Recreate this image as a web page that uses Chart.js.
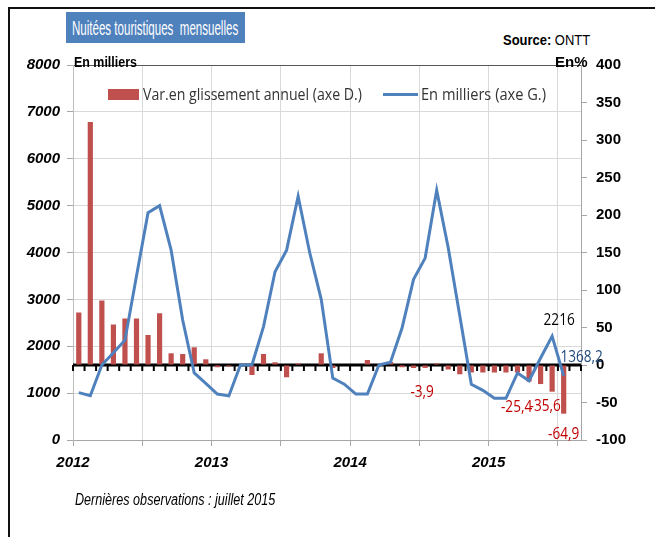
<!DOCTYPE html>
<html>
<head>
<meta charset="utf-8">
<script src="https://cdn.jsdelivr.net/npm/chart.js@4.4.1/dist/chart.umd.min.js"></script>
<style>
  body { margin: 0; background: #fff; font-family: "Liberation Sans", Arial, sans-serif; }
  #page { position: relative; width: 655px; height: 537px; overflow: hidden; }
  #frame { position: absolute; left: 8px; top: 7px; width: 700px; height: 600px;
           border-top: 2px solid #111; border-left: 2px solid #111; }
  #wrap { position: absolute; left: 0; top: 0; width: 655px; height: 537px; }
  #titlebox { position: absolute; left: 66px; top: 12px; width: 179px; height: 31px; background: #4F81BD; }
  .t { position: absolute; white-space: nowrap; line-height: 1; transform-origin: 0 50%; }
</style>
</head>
<body>
<div id="page">
  <div id="frame"></div>
  <div id="titlebox"></div>
  <div class="t" data-w="166" style="left:72px;top:17px;font-size:21px;color:#fff">Nuitées touristiques&nbsp; mensuelles</div>
  <div class="t" data-w="87" style="left:503px;top:33px;font-size:14px;color:#000"><b>Source:</b> ONTT</div>
  <div id="wrap"><canvas id="chart"></canvas></div>
  <div class="t" data-w="63" style="left:74px;top:54px;font-size:15px;font-weight:bold;color:#000">En milliers</div>
  <div class="t" data-w="33" style="left:555px;top:54px;font-size:15px;font-weight:bold;color:#000">En%</div>
  <div class="t" data-w="200" style="left:75px;top:492px;font-size:16px;font-style:italic;color:#000">Dernières observations : juillet 2015</div>
</div>
<script>
// months Jan 2012 .. Aug 2015 (last slot left empty like the original)
const firstYear = 2012;
const months = [];
for (let y = 2012; y <= 2015; y++) {
  for (let m = 1; m <= 12; m++) months.push(y + '-' + String(m).padStart(2, '0'));
}
months.length = 44;

// nuitées, en milliers (axe G.)
const nuitees = [
  1010, 945, 1600, 1860, 2130, 3500, 4850, 5000, 4050, 2560, 1430, 1210,
  980, 940, 1600, 1600, 2420, 3590, 4050, 5200, 4000, 3000, 1320, 1190,
  980, 980, 1600, 1660, 2390, 3430, 3880, 5330, 4100, 2650, 1190, 1060,
  890, 890, 1430, 1265, 1750, 2216, 1368.2
];

// glissement annuel, en % (axe D.)
const glissement = [
  70, 324, 86, 54, 62, 62, 40, 69, 15.6, 14.7, 23.6, 7.6,
  -3, -2, 0, -13.3, 14.7, 3.6, -16.4, 2, 0, 15.6, -4, 0,
  0, 6.7, -1, 4, -3, -4, -3.9, 2, -6, -12.4, -10, -10,
  -10, -10, -10, -22, -25.4, -35.6, -64.9
];

const leftTicks = { min: 0, max: 8000, step: 1000 };
const rightTicks = { min: -100, max: 400, step: 50 };

// which points carry a value label, and where the label sits
const notes = [
  { ds: 'line', i: 41, dx: 7, dy: -16, color: '#000' },
  { ds: 'line', i: 42, dx: 18, dy: -18, color: '#1F497D' },
  { ds: 'bar', i: 30, dx: -3, dy: 25, color: '#C00000' },
  { ds: 'bar', i: 41, dx: -7, dy: 15, color: '#C00000' },
  { ds: 'bar', i: 40, dx: -24, dy: 23, color: '#C00000' },
  { ds: 'bar', i: 42, dx: 0, dy: 21, color: '#C00000' }
];

const fmt = v => String(v).replace('.', ',');

function say(ctx, text, x, y, font, color, sx, align) {
  ctx.save();
  ctx.font = font;
  ctx.fillStyle = color;
  ctx.textBaseline = 'middle';
  ctx.textAlign = align || 'center';
  ctx.translate(x, y);
  ctx.scale(sx, 1);
  ctx.fillText(text, 0, 0);
  ctx.restore();
}

function sayFit(ctx, text, x, y, font, color, w) {
  ctx.save();
  ctx.font = font;
  const m = ctx.measureText(text).width;
  ctx.restore();
  say(ctx, text, x, y, font, color, w / m, 'left');
}

const zeroAxis = {
  id: 'zeroAxis',
  beforeDatasetsDraw(chart) {
    const { ctx, chartArea: a, scales } = chart;
    const y0 = scales.y1.getPixelForValue(0);
    ctx.save();
    ctx.strokeStyle = '#000';
    ctx.lineWidth = 2;
    ctx.beginPath();
    for (let i = 0; i <= months.length; i++) {
      const x = scales.xg.getPixelForValue(i);
      ctx.moveTo(x, y0);
      ctx.lineTo(x, y0 + 6);
    }
    ctx.stroke();
    ctx.lineWidth = 3;
    ctx.beginPath();
    ctx.moveTo(a.left, y0);
    ctx.lineTo(a.right, y0);
    ctx.stroke();
    ctx.restore();
  }
};

const extras = {
  id: 'extras',
  afterDraw(chart) {
    const { ctx, scales } = chart;
    // legend, inside the plot
    ctx.save();
    ctx.fillStyle = '#C0504D';
    ctx.fillRect(108, 89, 31, 11);
    ctx.strokeStyle = '#4F81BD';
    ctx.lineWidth = 3;
    ctx.beginPath();
    ctx.moveTo(383, 94.5);
    ctx.lineTo(418, 94.5);
    ctx.stroke();
    ctx.restore();
    sayFit(ctx, chart.data.datasets[1].label, 143, 95, '16px "Open Sans"', '#333', 219);
    sayFit(ctx, chart.data.datasets[0].label, 421, 95, '16px "Open Sans"', '#333', 125);

    // value labels
    notes.forEach(n => {
      const v = n.ds === 'line' ? nuitees[n.i] : glissement[n.i];
      const x = scales.x.getPixelForValue(n.i) + n.dx;
      const y = (n.ds === 'line' ? scales.y : scales.y1).getPixelForValue(v) + n.dy;
      say(ctx, fmt(v), x, y, '16px "Open Sans"', n.color, 0.85);
    });
  }
};

const tickFont = { family: 'Liberation Sans', size: 15, weight: 'bold', style: 'italic' };

new Chart(document.getElementById('chart').getContext('2d'), {
  data: {
    labels: months,
    datasets: [
      {
        type: 'line',
        label: 'En milliers (axe G.)',
        data: nuitees,
        yAxisID: 'y',
        borderColor: '#4F81BD',
        borderWidth: 3,
        pointRadius: 0,
        tension: 0,
        order: 0
      },
      {
        type: 'bar',
        label: 'Var.en glissement annuel (axe D.)',
        data: glissement,
        yAxisID: 'y1',
        backgroundColor: '#C0504D',
        barPercentage: 0.45,
        categoryPercentage: 1,
        order: 1
      }
    ]
  },
  options: {
    responsive: true,
    maintainAspectRatio: false,
    animation: false,
    layout: { padding: { top: 65, left: 0, right: 0, bottom: 0 } },
    plugins: { legend: { display: false }, tooltip: { enabled: false } },
    scales: {
      x: { type: 'category', display: false, offset: true },
      xg: {
        type: 'linear',
        position: 'bottom',
        min: 0,
        max: months.length,
        afterFit: s => { s.height = 97; },
        ticks: {
          stepSize: 6,
          includeBounds: false,
          autoSkip: false,
          maxRotation: 0,
          padding: 8,
          font: tickFont,
          color: '#000',
          callback: v => (v % 12 === 0 ? String(firstYear + v / 12) : '')
        },
        grid: { color: '#D9D9D9', tickColor: '#A6A6A6', tickLength: 6 },
        border: { color: '#A6A6A6' }
      },
      y: {
        position: 'left',
        min: leftTicks.min,
        max: leftTicks.max,
        afterFit: s => { s.width = 73; },
        ticks: { stepSize: leftTicks.step, padding: 7, font: tickFont, color: '#000', callback: v => String(v) },
        grid: {
          color: c => (c.tick && c.tick.value === leftTicks.max ? '#595959' : '#D9D9D9'),
          tickColor: '#A6A6A6',
          tickLength: 6
        },
        border: { color: '#BFBFBF' }
      },
      y1: {
        position: 'right',
        min: rightTicks.min,
        max: rightTicks.max,
        afterFit: s => { s.width = 74; },
        ticks: {
          stepSize: rightTicks.step,
          padding: 9,
          font: { family: 'Liberation Sans', size: 15, weight: 'bold' },
          color: '#000',
          callback: v => String(v)
        },
        grid: { drawOnChartArea: false, tickColor: '#A6A6A6', tickLength: 6 },
        border: { color: '#A6A6A6' }
      }
    }
  },
  plugins: [zeroAxis, extras]
});

// squeeze the narrow texts to their width in the original
document.querySelectorAll('.t').forEach(el => {
  const w = +el.dataset.w;
  el.style.transform = 'scaleX(' + (w / el.offsetWidth) + ')';
});
</script>
</body>
</html>
